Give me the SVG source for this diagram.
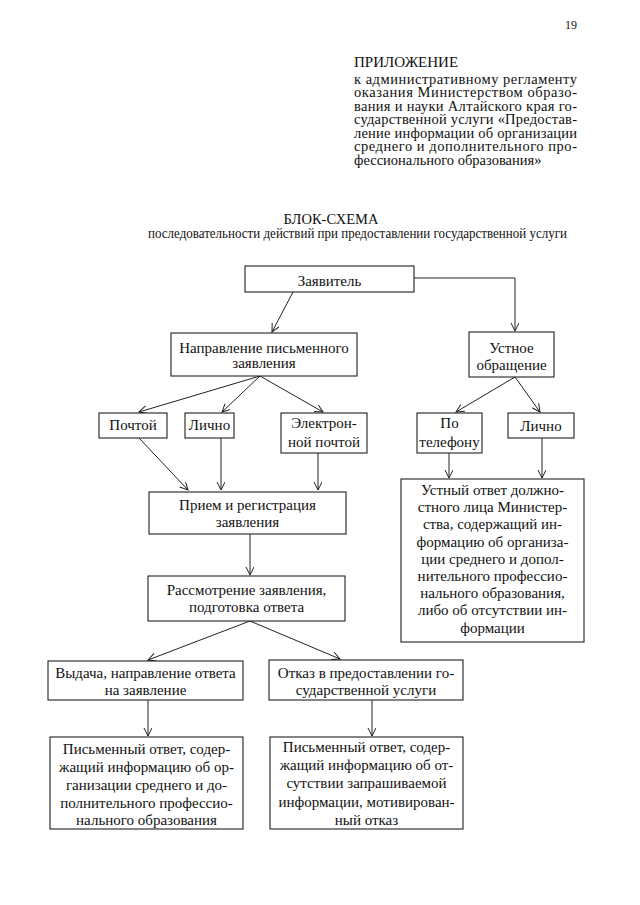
<svg xmlns="http://www.w3.org/2000/svg" width="640" height="905" viewBox="0 0 640 905">
<style>
  text { font-family: "Liberation Serif", "Times New Roman", serif; fill: #111; }
  .t { font-size: 15px; text-anchor: middle; }
  .h { font-size: 14.5px; }
  rect.box { fill: #fff; stroke: #222; stroke-width: 1.1; }
  .c { fill: none; stroke: #222; stroke-width: 1; marker-end: url(#arr); }
</style>
<defs>
  <marker id="arr" markerUnits="userSpaceOnUse" markerWidth="12" markerHeight="12" refX="9" refY="4" orient="auto">
    <path d="M1,0 L9,4 L1,8" fill="none" stroke="#222" stroke-width="1"/>
  </marker>
</defs>
<rect x="0" y="0" width="640" height="905" fill="#fff"/>

<g id="header">
  <text x="577" y="29" style="font-size:12px;text-anchor:end">19</text>
  <text class="h" x="354" y="67" style="font-size:15px">ПРИЛОЖЕНИЕ</text>
  <text class="h" x="354" y="83.5" textLength="223" lengthAdjust="spacing">к административному регламенту</text>
  <text class="h" x="354" y="97" textLength="223" lengthAdjust="spacing">оказания Министерством образо-</text>
  <text class="h" x="354" y="110.5" textLength="223" lengthAdjust="spacing">вания и науки Алтайского края го-</text>
  <text class="h" x="354" y="124" textLength="223" lengthAdjust="spacing">сударственной услуги «Предостав-</text>
  <text class="h" x="354" y="137.5" textLength="223" lengthAdjust="spacing">ление информации об организации</text>
  <text class="h" x="354" y="151" textLength="223" lengthAdjust="spacing">среднего и дополнительного про-</text>
  <text class="h" x="354" y="164.5">фессионального образования»</text>
</g>

<g id="title">
  <text class="t" x="331" y="224" style="font-size:14.5px">БЛОК-СХЕМА</text>
  <text class="t" x="357.5" y="238" style="font-size:14.5px" textLength="419" lengthAdjust="spacingAndGlyphs">последовательности действий при предоставлении государственной услуги</text>
</g>

<g id="connectors">
  <line class="c" x1="293" y1="292" x2="272" y2="332"/>
  <polyline class="c" points="414,278 515,278 515,331"/>
  <line class="c" x1="260" y1="376" x2="139" y2="412"/>
  <line class="c" x1="260" y1="376" x2="222" y2="412"/>
  <line class="c" x1="260" y1="376" x2="323" y2="412"/>
  <line class="c" x1="515" y1="377" x2="456" y2="412"/>
  <line class="c" x1="515" y1="377" x2="540" y2="412"/>
  <line class="c" x1="139" y1="438" x2="188" y2="490"/>
  <line class="c" x1="221" y1="438" x2="221" y2="490"/>
  <line class="c" x1="318" y1="453" x2="318" y2="490"/>
  <line class="c" x1="250" y1="534" x2="250" y2="575"/>
  <line class="c" x1="250" y1="621" x2="148" y2="660"/>
  <line class="c" x1="250" y1="621" x2="340" y2="659"/>
  <line class="c" x1="148" y1="700" x2="148" y2="736"/>
  <line class="c" x1="372" y1="700" x2="372" y2="736"/>
  <line class="c" x1="449" y1="453" x2="449" y2="478"/>
  <line class="c" x1="542" y1="438" x2="542" y2="478"/>
</g>

<g id="n-zayavitel">
  <rect class="box" x="245" y="266" width="169" height="26"/>
  <text class="t" x="329.5" y="286">Заявитель</text>
</g>
<g id="n-napravlenie">
  <rect class="box" x="171" y="333" width="186" height="43"/>
  <text class="t" x="264" y="353">Направление письменного</text>
  <text class="t" x="264" y="368">заявления</text>
</g>
<g id="n-ustnoe">
  <rect class="box" x="469" y="332" width="85" height="45"/>
  <text class="t" x="511.5" y="353">Устное</text>
  <text class="t" x="511.5" y="370">обращение</text>
</g>
<g id="n-pochtoy">
  <rect class="box" x="99" y="413" width="68" height="25"/>
  <text class="t" x="133" y="430">Почтой</text>
</g>
<g id="n-lichno1">
  <rect class="box" x="185" y="413" width="49" height="25"/>
  <text class="t" x="209.5" y="430">Лично</text>
</g>
<g id="n-elektron">
  <rect class="box" x="281" y="413" width="86" height="40"/>
  <text class="t" x="324" y="428">Электрон-</text>
  <text class="t" x="324" y="447">ной почтой</text>
</g>
<g id="n-telefon">
  <rect class="box" x="417" y="413" width="65" height="40"/>
  <text class="t" x="449.5" y="428">По</text>
  <text class="t" x="449.5" y="447">телефону</text>
</g>
<g id="n-lichno2">
  <rect class="box" x="508" y="413" width="66" height="25"/>
  <text class="t" x="541" y="431">Лично</text>
</g>
<g id="n-priem">
  <rect class="box" x="149" y="492" width="197" height="42"/>
  <text class="t" x="247.5" y="510">Прием и регистрация</text>
  <text class="t" x="247.5" y="527">заявления</text>
</g>
<g id="n-ustny-otvet">
  <rect class="box" x="401" y="479" width="183" height="163"/>
  <text class="t" x="492.5" y="495">Устный ответ должно-</text>
  <text class="t" x="492.5" y="512.2">стного лица Министер-</text>
  <text class="t" x="492.5" y="529.4">ства, содержащий ин-</text>
  <text class="t" x="492.5" y="546.6">формацию об организа-</text>
  <text class="t" x="492.5" y="563.8">ции среднего и допол-</text>
  <text class="t" x="492.5" y="581">нительного профессио-</text>
  <text class="t" x="492.5" y="598.2">нального образования,</text>
  <text class="t" x="492.5" y="615.4">либо об отсутствии ин-</text>
  <text class="t" x="492.5" y="632.6">формации</text>
</g>
<g id="n-rassmotrenie">
  <rect class="box" x="148" y="576" width="197" height="45"/>
  <text class="t" x="246.5" y="595">Рассмотрение заявления,</text>
  <text class="t" x="246.5" y="612">подготовка ответа</text>
</g>
<g id="n-vydacha">
  <rect class="box" x="48" y="661" width="195" height="39"/>
  <text class="t" x="145.5" y="678">Выдача, направление ответа</text>
  <text class="t" x="145.5" y="695">на заявление</text>
</g>
<g id="n-otkaz">
  <rect class="box" x="269" y="660" width="194" height="40"/>
  <text class="t" x="366" y="678">Отказ в предоставлении го-</text>
  <text class="t" x="366" y="695">сударственной услуги</text>
</g>
<g id="n-pismenny1">
  <rect class="box" x="50" y="737" width="193" height="92"/>
  <text class="t" x="146.5" y="754">Письменный ответ, содер-</text>
  <text class="t" x="146.5" y="772">жащий информацию об ор-</text>
  <text class="t" x="146.5" y="790">ганизации среднего и до-</text>
  <text class="t" x="146.5" y="808">полнительного профессио-</text>
  <text class="t" x="146.5" y="825">нального образования</text>
</g>
<g id="n-pismenny2">
  <rect class="box" x="270" y="737" width="193" height="92"/>
  <text class="t" x="366.5" y="752">Письменный ответ, содер-</text>
  <text class="t" x="366.5" y="770">жащий информацию об от-</text>
  <text class="t" x="366.5" y="788">сутствии запрашиваемой</text>
  <text class="t" x="366.5" y="807">информации, мотивирован-</text>
  <text class="t" x="366.5" y="825">ный отказ</text>
</g>
</svg>
